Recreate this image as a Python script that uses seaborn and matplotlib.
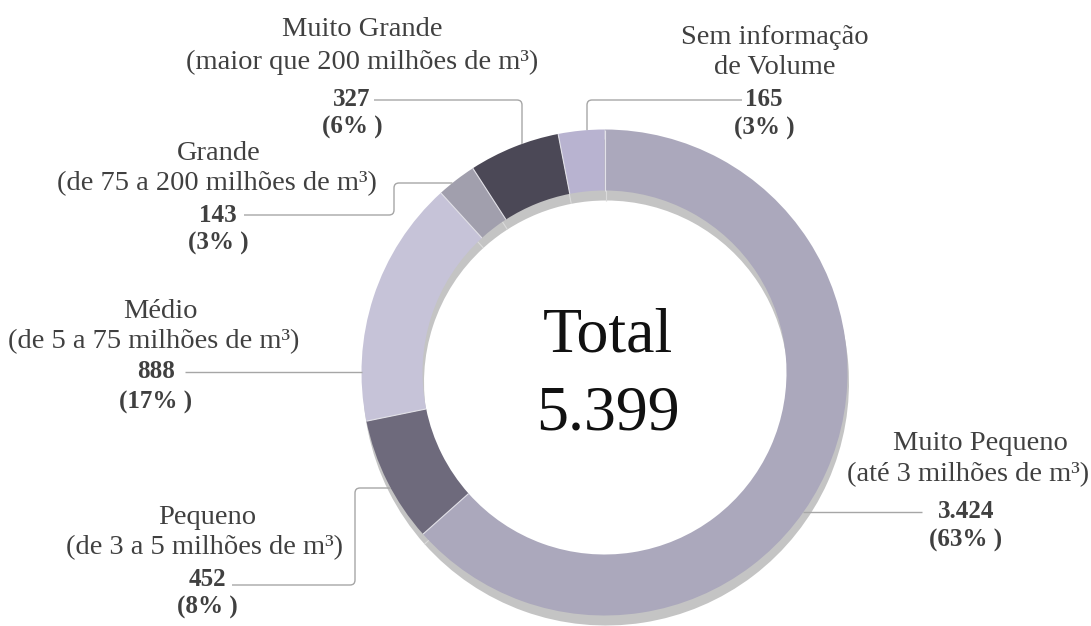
import numpy as np
import matplotlib
matplotlib.use("Agg")
import matplotlib.pyplot as plt
from matplotlib.path import Path
from matplotlib.patches import PathPatch
import seaborn as sns

# data, clockwise from 12 o'clock
categories = ["Muito Pequeno", "Pequeno", "Médio", "Grande", "Muito Grande", "Sem informação"]
subtitles = ["(até 3 milhões de m³)", "(de 3 a 5 milhões de m³)", "(de 5 a 75 milhões de m³)",
             "(de 75 a 200 milhões de m³)", "(maior que 200 milhões de m³)", "de Volume"]
counts = [3424, 452, 888, 143, 327, 165]
pct_labels = ["(63% )", "(8% )", "(17% )", "(3% )", "(6% )", "(3% )"]
count_labels = ["3.424", "452", "888", "143", "327", "165"]
total_label = "5.399"

colors = ["#aba8bc", "#6e6a7c", "#c6c3d8", "#a19fad", "#4b4856", "#b8b3d0"]

W, H = 1091, 626
CX, CY = 604.5, 372.5   # ring centre, pixels from top-left
R_OUT, R_W = 243, 61


def py(y):
    return H - y


def on_ring_x(x):
    # point on outer edge, top half, at given x
    return x, CY - np.sqrt(R_OUT**2 - (x - CX)**2)


def on_ring_y(y, side):
    dx = np.sqrt(R_OUT**2 - (y - CY)**2)
    return (CX - dx if side == "left" else CX + dx), y


def leader(ax, pts, rad=5):
    verts = [pts[0]]
    codes = [Path.MOVETO]
    for i in range(1, len(pts) - 1):
        p0, p1, p2 = np.array(pts[i - 1]), np.array(pts[i]), np.array(pts[i + 1])
        d1 = (p1 - p0) / np.linalg.norm(p1 - p0)
        d2 = (p2 - p1) / np.linalg.norm(p2 - p1)
        verts += [tuple(p1 - d1 * rad), tuple(p1), tuple(p1 + d2 * rad)]
        codes += [Path.LINETO, Path.CURVE3, Path.CURVE3]
    verts.append(pts[-1])
    codes.append(Path.LINETO)
    verts = [(x, py(y)) for x, y in verts]
    ax.add_patch(PathPatch(Path(verts, codes), fill=False, edgecolor="#a6a6a6",
                           linewidth=1.0, zorder=5))


def ring(ax, cols, center, sep_color, z):
    wedges, _ = ax.pie(counts, colors=cols, startangle=90, counterclock=False,
                       radius=R_OUT, center=center,
                       wedgeprops=dict(width=R_W, linewidth=0))
    for w in wedges:
        w.set_zorder(z)
        a = np.deg2rad(w.theta1)
        r = np.array([R_OUT - R_W, R_OUT])
        ax.plot(center[0] + r * np.cos(a), center[1] + r * np.sin(a),
                color=sep_color, lw=0.8, solid_capstyle="butt", zorder=z + 0.5)


sns.set_theme(style="white")
plt.rcParams["font.family"] = ["Liberation Serif", "DejaVu Serif"]

fig = plt.figure(figsize=(W / 100, H / 100), dpi=100)
ax = fig.add_axes([0, 0, 1, 1])

ring(ax, ["#c4c4c4"] * len(counts), (CX + 1.5, py(CY + 10)), "#dadada", 1)
ring(ax, colors, (CX, py(CY)), "#e2e1e8", 3)

ax.set_xlim(0, W)
ax.set_ylim(0, H)
ax.set_aspect("equal")
ax.axis("off")

# label layout: (name x, name y, sub x, sub y, num x, num y, pct y)
layout = {
    "Muito Pequeno": (980, 443, 968, 475, 966, 511, 540),
    "Pequeno": (207, 517, 205, 548, 207, 580, 607),
    "Médio": (160, 312, 154, 342, 156, 372, 402),
    "Grande": (219, 153, 217, 184, 218, 215, 243),
    "Muito Grande": (362, 30, 362, 62, 352, 100, 127),
    "Sem informação": (775, 38, 775, 68, 764, 100, 128),
}

txt = "#404040"
for cat, sub, cl, pl in zip(categories, subtitles, count_labels, pct_labels):
    nx, ny, sx, sy, vx, vy, pcy = layout[cat]
    ax.text(nx, py(ny), cat, ha="center", va="center", fontsize=20.5, color=txt)
    ax.text(sx, py(sy), sub, ha="center", va="center", fontsize=20.5, color=txt)
    ax.text(vx, py(vy), cl, ha="center", va="center", fontsize=18, color=txt, fontweight="bold")
    ax.text(vx, py(pcy), pl, ha="center", va="center", fontsize=18, color=txt, fontweight="bold")

# leader lines
leader(ax, [(374, 100), (522, 100), on_ring_x(522)])
leader(ax, [(742, 100), (587, 100), on_ring_x(587)])
leader(ax, [(244, 215), (394, 215), (394, 183), on_ring_y(183, "left")])
leader(ax, [(185, 372), on_ring_y(372, "left")])
leader(ax, [(232, 585), (355, 585), (355, 488), on_ring_y(488, "left")])
leader(ax, [(922, 512), on_ring_y(512, "right")])

ax.text(608, py(336), "Total", ha="center", va="center", fontsize=46, color="#111111")
ax.text(608, py(414), total_label, ha="center", va="center", fontsize=46, color="#111111")

fig.savefig("out.png", dpi=100, facecolor="white")
